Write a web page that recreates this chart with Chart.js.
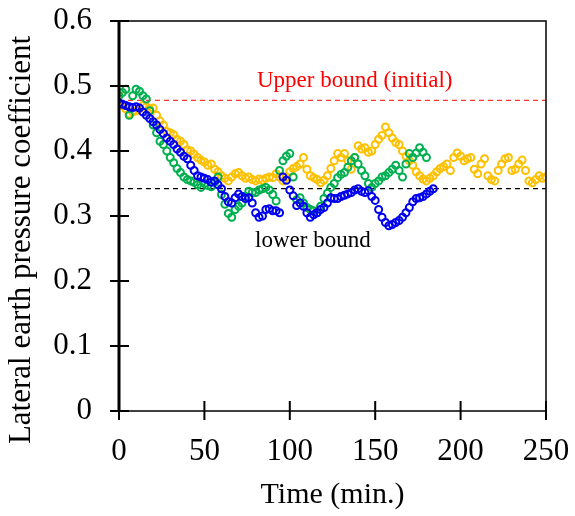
<!DOCTYPE html>
<html>
<head>
<meta charset="utf-8">
<script src="https://cdn.jsdelivr.net/npm/chart.js@4.4.0/dist/chart.umd.min.js"></script>
<style>
  html, body { margin: 0; padding: 0; background: #fff; }
</style>
</head>
<body>
<canvas id="pressureChart" width="575" height="516"></canvas>
<script>
// time axis (min.), one reading every 2 minutes
const timeMin = [
  0, 2, 4, 6, 8, 10, 12, 14, 16, 18,
  20, 22, 24, 26, 28, 30, 32, 34, 36, 38,
  40, 42, 44, 46, 48, 50, 52, 54, 56, 58,
  60, 62, 64, 66, 68, 70, 72, 74, 76, 78,
  80, 82, 84, 86, 88, 90, 92, 94, 96, 98,
  100, 102, 104, 106, 108, 110, 112, 114, 116, 118,
  120, 122, 124, 126, 128, 130, 132, 134, 136, 138,
  140, 142, 144, 146, 148, 150, 152, 154, 156, 158,
  160, 162, 164, 166, 168, 170, 172, 174, 176, 178,
  180, 182, 184, 186, 188, 190, 192, 194, 196, 198,
  200, 202, 204, 206, 208, 210, 212, 214, 216, 218,
  220, 222, 224, 226, 228, 230, 232, 234, 236, 238,
  240, 242, 244, 246, 248, 250
];

const orangeK = [
  0.49, 0.47, 0.465, 0.457, 0.46, 0.462, 0.465, 0.47, 0.468, 0.465,
  0.466, 0.455, 0.446, 0.44, 0.43, 0.428, 0.425, 0.418, 0.415, 0.41,
  0.402, 0.40, 0.395, 0.39, 0.386, 0.383, 0.378, 0.38, 0.372, 0.368,
  0.362, 0.358, 0.354, 0.36, 0.365, 0.367, 0.362, 0.358, 0.36, 0.356,
  0.354, 0.357, 0.355, 0.358, 0.36, 0.359, 0.365, 0.36, 0.354, 0.36,
  0.368, 0.373, 0.376, 0.38, 0.39, 0.372, 0.362, 0.359, 0.356, 0.351,
  0.355, 0.362, 0.373, 0.385, 0.396, 0.39, 0.396, 0.385, 0.372, 0.39,
  0.408, 0.403, 0.405, 0.398, 0.40, 0.41, 0.418, 0.424, 0.437, 0.428,
  0.42, 0.413, 0.41, 0.40, 0.392, 0.385, 0.378, 0.368, 0.362, 0.357,
  0.354, 0.358, 0.362, 0.368, 0.373, 0.376, 0.38, 0.37, 0.39, 0.397,
  0.392, 0.385, 0.388, 0.39, 0.372, 0.365, 0.38, 0.388, 0.362, 0.356,
  0.354, 0.37, 0.38, 0.388, 0.39, 0.37, 0.372, 0.38, 0.386, 0.37,
  0.354, 0.351, 0.356, 0.362, 0.358, 0.36
];

const greenK = [
  0.485, 0.49, 0.495, 0.455, 0.485, 0.495, 0.492, 0.485, 0.48, 0.462,
  0.44, 0.428, 0.415, 0.41, 0.40, 0.39, 0.382, 0.373, 0.367, 0.36,
  0.356, 0.354, 0.352, 0.348, 0.344, 0.35, 0.347, 0.345, 0.352, 0.36,
  0.333, 0.318, 0.304, 0.298, 0.31, 0.315, 0.32, 0.33, 0.338, 0.336,
  0.336, 0.34, 0.342, 0.344, 0.34, 0.333, 0.323, 0.37, 0.385, 0.392,
  0.396, 0.36, 0.325, 0.328, 0.32, 0.313, 0.31, 0.308, 0.305, 0.315,
  0.327, 0.335, 0.344, 0.35, 0.359, 0.364, 0.367, 0.375, 0.385, 0.39,
  0.38, 0.37, 0.362, 0.35, 0.344, 0.35, 0.354, 0.36, 0.362, 0.367,
  0.372, 0.378, 0.37, 0.36, 0.38, 0.396, 0.39, 0.397, 0.405, 0.398,
  0.39
];

const blueK = [
  0.474, 0.472, 0.47, 0.468, 0.467, 0.468, 0.466, 0.46, 0.455, 0.45,
  0.445, 0.44, 0.433, 0.427, 0.42, 0.415, 0.41, 0.403, 0.398, 0.392,
  0.388, 0.378, 0.37, 0.362, 0.36, 0.358, 0.356, 0.352, 0.354, 0.348,
  0.342, 0.33, 0.322, 0.32, 0.328, 0.334, 0.33, 0.327, 0.328, 0.32,
  0.305, 0.298, 0.30, 0.31, 0.311, 0.308, 0.308, 0.305, 0.36, 0.355,
  0.34, 0.331, 0.316, 0.32, 0.315, 0.305, 0.298, 0.302, 0.305, 0.31,
  0.313, 0.32, 0.328, 0.327, 0.327, 0.33, 0.332, 0.334, 0.336, 0.34,
  0.342, 0.338, 0.336, 0.339, 0.33, 0.324, 0.31, 0.298, 0.29, 0.285,
  0.287, 0.29, 0.293, 0.298, 0.305, 0.313, 0.322, 0.327, 0.328, 0.33,
  0.334, 0.338, 0.342
];

const upperBound = 0.478;
const lowerBound = 0.342;
const xTickRange = [0, 250];
const yTickRange = [0, 0.6];

const FONT = '"Liberation Serif", "DejaVu Serif", serif';

function toPoints(ys) {
  return ys.map((v, i) => ({ x: timeMin[i], y: v }));
}

function markerSet(label, ys, color, order) {
  return {
    label: label,
    data: toPoints(ys),
    showLine: false,
    pointStyle: 'circle',
    pointRadius: 3.5,
    pointBorderWidth: 2,
    pointBorderColor: color,
    pointBackgroundColor: 'rgba(0,0,0,0)',
    order: order
  };
}

function boundSet(label, k, color, order) {
  return {
    label: label,
    data: [{ x: xTickRange[0], y: k }, { x: xTickRange[1], y: k }],
    showLine: true,
    borderColor: color,
    borderWidth: 1.3,
    borderDash: [5, 4],
    pointRadius: 0,
    order: order
  };
}

// box around plot area + tick marks crossing the axes + text labels
const frameAndNotes = {
  id: 'frameAndNotes',
  afterDraw(chart) {
    const { ctx, chartArea: a, scales: { x, y } } = chart;
    ctx.save();
    ctx.strokeStyle = '#000';
    ctx.lineWidth = 1.5;
    ctx.strokeRect(a.left, a.top, a.right - a.left, a.bottom - a.top);
    ctx.lineWidth = 3;
    ctx.beginPath();
    ctx.moveTo(a.left, a.top);
    ctx.lineTo(a.left, a.bottom);
    ctx.stroke();

    ctx.lineWidth = 2;
    ctx.beginPath();
    y.ticks.forEach(t => {
      const py = y.getPixelForValue(t.value);
      ctx.moveTo(a.left - 9, py);
      ctx.lineTo(a.left + 10, py);
    });
    x.ticks.forEach(t => {
      const px = x.getPixelForValue(t.value);
      ctx.moveTo(px, a.bottom - 10);
      ctx.lineTo(px, a.bottom + 9);
    });
    ctx.stroke();

    ctx.font = '23px ' + FONT;
    ctx.textAlign = 'center';
    ctx.textBaseline = 'middle';
    ctx.fillStyle = '#ff0000';
    ctx.fillText('Upper bound (initial)', x.getPixelForValue(138), y.getPixelForValue(0.508));
    ctx.fillStyle = '#000';
    ctx.fillText('lower bound', x.getPixelForValue(113.5), y.getPixelForValue(0.261));

    // y axis title
    ctx.save();
    ctx.translate(22, 240);
    ctx.rotate(-Math.PI / 2);
    ctx.font = '31px ' + FONT;
    ctx.fillText('Lateral earth pressure coefficient', 0, 0);
    ctx.restore();
    ctx.restore();
  }
};

new Chart(document.getElementById('pressureChart'), {
  type: 'scatter',
  data: {
    datasets: [
      markerSet('blue', blueK, '#0000ee', 1),
      markerSet('green', greenK, '#00b050', 2),
      markerSet('orange', orangeK, '#ffc000', 3),
      boundSet('Upper bound (initial)', upperBound, '#ff3333', 4),
      boundSet('lower bound', lowerBound, '#000000', 5)
    ]
  },
  options: {
    responsive: false,
    animation: false,
    layout: { padding: { top: 21, right: 29, left: 0, bottom: 0 } },
    plugins: {
      legend: { display: false },
      tooltip: { enabled: false }
    },
    scales: {
      x: {
        type: 'linear',
        min: xTickRange[0],
        max: xTickRange[1],
        ticks: {
          stepSize: 50,
          color: '#000',
          padding: 22,
          maxRotation: 0,
          font: { family: FONT, size: 31 }
        },
        grid: { display: false, drawTicks: false },
        border: { display: false },
        title: {
          display: true,
          text: 'Time (min.)',
          color: '#000',
          font: { family: FONT, size: 30 },
          padding: { top: 0, bottom: 3 }
        },
        afterFit: s => { s.height = 105; s.paddingLeft = 0; s.paddingRight = 0; }
      },
      y: {
        type: 'linear',
        min: yTickRange[0],
        max: yTickRange[1],
        ticks: {
          stepSize: 0.1,
          color: '#000',
          padding: 27,
          font: { family: FONT, size: 31 },
          callback: v => String(+v.toFixed(1))
        },
        grid: { display: false, drawTicks: false },
        border: { display: false },
        title: { display: false },
        afterFit: s => { s.width = 119; s.paddingTop = 0; s.paddingBottom = 0; }
      }
    }
  },
  plugins: [frameAndNotes]
});
</script>
</body>
</html>
